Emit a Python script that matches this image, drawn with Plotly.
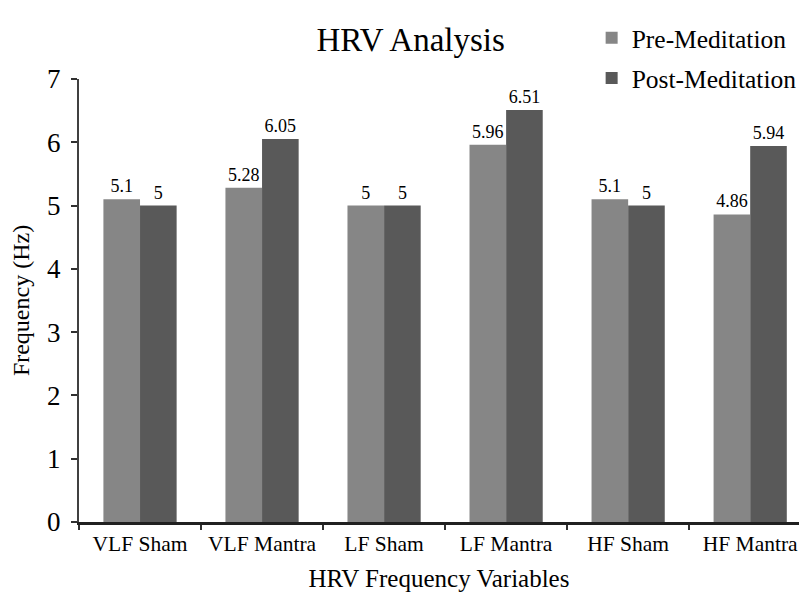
import plotly.graph_objects as go

categories = ['VLF Sham', 'VLF Mantra', 'LF Sham', 'LF Mantra', 'HF Sham', 'HF Mantra']
pre_meditation = [5.1, 5.28, 5.0, 5.96, 5.1, 4.86]
post_meditation = [5.0, 6.05, 5.0, 6.51, 5.0, 5.94]

serif = 'Liberation Serif, Times New Roman, serif'

fig = go.Figure()
fig.add_trace(go.Bar(
    x=categories, y=pre_meditation, name='Pre-Meditation', legendgroup='pre',
    marker=dict(color='#868686', line=dict(width=0)),
    text=[f'{v:g}' for v in pre_meditation],
    textposition='outside', constraintext='none', cliponaxis=False,
    textfont=dict(size=18, color='black', family=serif)))
fig.add_trace(go.Bar(
    x=categories, y=post_meditation, name='Post-Meditation', legendgroup='post',
    marker=dict(color='#595959', line=dict(width=0)),
    text=[f'{v:g}' for v in post_meditation],
    textposition='outside', constraintext='none', cliponaxis=False,
    textfont=dict(size=18, color='black', family=serif)))

fig.update_layout(
    width=799, height=592,
    margin=dict(l=79, r=0, t=79, b=70, autoexpand=False),
    plot_bgcolor='white', paper_bgcolor='white',
    font=dict(family=serif, color='black'),
    barmode='group', bargap=0.4, bargroupgap=0,
    title=dict(text='HRV Analysis', x=0.514, xanchor='center',
               y=0.934, yanchor='middle', font=dict(size=33, color='black')),
    legend=dict(x=0.712, xanchor='left', y=1.145, yanchor='top',
                font=dict(size=25.5, color='black'),
                itemwidth=30, tracegroupgap=4, bgcolor='rgba(0,0,0,0)'),
    showlegend=True,
)

fig.update_xaxes(
    range=[-0.5, 5.4],
    tickson='boundaries', ticks='outside', ticklen=5, tickwidth=2,
    tickcolor='#303030',
    showline=True, linecolor='#202020', linewidth=3,
    showgrid=False,
    tickfont=dict(size=21.5),
    title=dict(text='HRV Frequency Variables', font=dict(size=25), standoff=15),
)
fig.update_yaxes(
    range=[0, 7], dtick=1,
    ticks='outside', ticklen=6, tickwidth=2, tickcolor='#303030',
    showline=True, linecolor='#404040', linewidth=2,
    showgrid=False, zeroline=False,
    tickfont=dict(size=27), ticklabelstandoff=5,
    title=dict(text='Frequency (Hz)', font=dict(size=24), standoff=11),
)

# drop the default page margin so the figure fills the window
fig.write_html('out.html', config={'displayModeBar': False},
               post_script="document.body.style.margin='0';")
